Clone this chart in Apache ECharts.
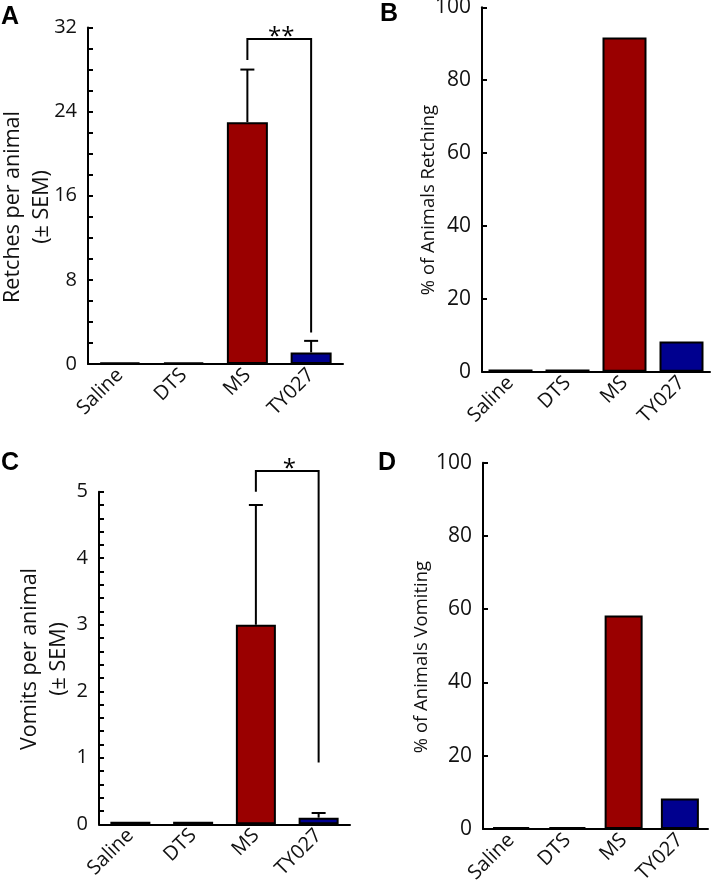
<!DOCTYPE html>
<html>
<head>
<meta charset="utf-8">
<script src="https://cdn.jsdelivr.net/npm/echarts@6/dist/echarts.min.js"></script>
<style>
html,body{margin:0;padding:0;background:#fff;}
#chart{width:712px;height:882px;}
</style>
</head>
<body>
<div id="chart"></div>
<script>
// ---- data ----
const categories = ['Saline', 'DTS', 'MS', 'TY027'];
const barColors = ['#444444', '#444444', '#9a0000', '#00008f'];

const retchMean = [0.15, 0.15, 23.0, 1.1];
const retchSem = [0, 0, 5.0, 1.1];
const retchPct = [0.6, 0.6, 91.7, 8.3];

const vomitMean = [0.04, 0.04, 3.0, 0.1];
const vomitSem = [0, 0, 1.8, 0.07];
const vomitPct = [0.5, 0.5, 58.3, 8.3];

// significance brackets: [fromCat, toCat, top, leftBottom, rightBottom, label]
const retchBracket = [2, 3, 30.9, 28.9, 3.0, '**'];
const vomitBracket = [2, 3, 5.31, 5.0, 0.93, '*'];

// axis ranges / tick labels
const retchAxis = { min: 0, max: 32, interval: 8, minor: 4 };
const vomitAxis = { min: 0, max: 5, interval: 1, minor: 5 };
const pctAxis = { min: 0, max: 100, interval: 20, minor: 0 };

const FONT = 'Open Sans';

const grids = [
  { left: 88, top: 27.5, width: 255, height: 336.5 },
  { left: 482, top: 7.3, width: 228, height: 364.4 },
  { left: 99, top: 491.7, width: 251, height: 332.6 },
  { left: 483, top: 462.7, width: 225, height: 366.3 }
];

function xAxis(gi) {
  return {
    type: 'category', gridIndex: gi, data: categories,
    axisTick: { show: false },
    axisLine: { lineStyle: { color: '#000', width: 2 } },
    axisLabel: { rotate: 45, fontSize: 20, fontFamily: FONT, color: '#111', margin: 8 }
  };
}
function yAxis(gi, ax, fs) {
  return {
    type: 'value', gridIndex: gi, min: ax.min, max: ax.max, interval: ax.interval,
    axisLine: { show: true, lineStyle: { color: '#000', width: 2 } },
    axisTick: { show: true, inside: true, length: 5, lineStyle: { color: '#000', width: 2 } },
    minorTick: { show: ax.minor > 0, splitNumber: ax.minor || 5, length: 5, lineStyle: { color: '#000', width: 2 } },
    splitLine: { show: false },
    minorSplitLine: { show: false },
    axisLabel: { fontSize: fs, fontFamily: FONT, color: '#111', margin: 11 }
  };
}
function barSeries(gi, vals, bw) {
  return {
    type: 'bar', xAxisIndex: gi, yAxisIndex: gi, barWidth: bw,
    data: vals.map((v, i) => ({ value: v, itemStyle: { color: barColors[i] } })),
    itemStyle: { borderColor: '#000', borderWidth: 2 },
    silent: true, animation: false
  };
}
function errSeries(gi, mean, sem) {
  return {
    type: 'custom', xAxisIndex: gi, yAxisIndex: gi, z: 5, animation: false, silent: true,
    data: mean.map((m, i) => [i, m, sem[i]]).filter(d => d[2] > 0),
    encode: { x: 0, y: 1 },
    renderItem: function (params, api) {
      const i = api.value(0), m = api.value(1), s = api.value(2);
      const p0 = api.coord([i, m]);
      const p1 = api.coord([i, m + s]);
      return {
        type: 'group', children: [
          { type: 'line', shape: { x1: p0[0], y1: p0[1], x2: p1[0], y2: p1[1] }, style: { stroke: '#000', lineWidth: 2 } },
          { type: 'line', shape: { x1: p1[0] - 7, y1: p1[1], x2: p1[0] + 7, y2: p1[1] }, style: { stroke: '#000', lineWidth: 2 } }
        ]
      };
    }
  };
}
function bracketSeries(gi, b, fs) {
  return {
    type: 'custom', xAxisIndex: gi, yAxisIndex: gi, z: 6, animation: false, silent: true,
    data: [[b[0], b[1], b[2], b[3], b[4]]],
    encode: { x: 0, y: 2 },
    renderItem: function (params, api) {
      const a = api.coord([api.value(0), api.value(2)]);
      const c = api.coord([api.value(1), api.value(2)]);
      const l = api.coord([api.value(0), api.value(3)]);
      const r = api.coord([api.value(1), api.value(4)]);
      return {
        type: 'group', children: [
          { type: 'polyline', shape: { points: [[a[0], l[1]], [a[0], a[1]], [c[0], c[1]], [c[0], r[1]]] },
            style: { stroke: '#000', lineWidth: 2, fill: null } },
          { type: 'text', x: (a[0] + c[0]) / 2 + 2, y: a[1] + 10,
            style: { text: b[5], fontSize: fs, fontFamily: FONT, fill: '#000', align: 'center', verticalAlign: 'bottom' } }
        ]
      };
    }
  };
}

const chart = echarts.init(document.getElementById('chart'), null, { renderer: 'canvas' });

function yTitle(text, x, y, fs, lh) {
  return { type: 'text', x: x, y: y, rotation: Math.PI / 2,
    style: { text: text, fontSize: fs, fontFamily: FONT, fill: '#111', align: 'center', verticalAlign: 'middle', lineHeight: lh } };
}
function letter(t, x, y) {
  return { type: 'text', x: x, y: y,
    style: { text: t, fontSize: 25, fontWeight: 'bold', fontFamily: 'Liberation Sans', fill: '#000', align: 'left', verticalAlign: 'top' } };
}

chart.setOption({
  animation: false,
  backgroundColor: '#fff',
  grid: grids.map(g => Object.assign({ containLabel: false, outerBoundsMode: 'none' }, g)),
  xAxis: [xAxis(0), xAxis(1), xAxis(2), xAxis(3)],
  yAxis: [yAxis(0, retchAxis, 20), yAxis(1, pctAxis, 21), yAxis(2, vomitAxis, 20), yAxis(3, pctAxis, 21)],
  series: [
    barSeries(0, retchMean, 41), errSeries(0, retchMean, retchSem), bracketSeries(0, retchBracket, 24),
    barSeries(1, retchPct, 44),
    barSeries(2, vomitMean, 40), errSeries(2, vomitMean, vomitSem), bracketSeries(2, vomitBracket, 24),
    barSeries(3, vomitPct, 38)
  ],
  graphic: [
    letter('A', 1, 5), letter('B', 380, 2), letter('C', 1, 451), letter('D', 378, 451),
    yTitle('Retches per animal\n(± SEM)', 27, 207, 21.5, 29),
    yTitle('% of Animals Retching', 429, 200, 18.5, 20),
    yTitle('Vomits per animal\n(± SEM)', 44, 659, 21.5, 29),
    yTitle('% of Animals Vomiting', 422, 657, 18.5, 20)
  ]
});
</script>
</body>
</html>
